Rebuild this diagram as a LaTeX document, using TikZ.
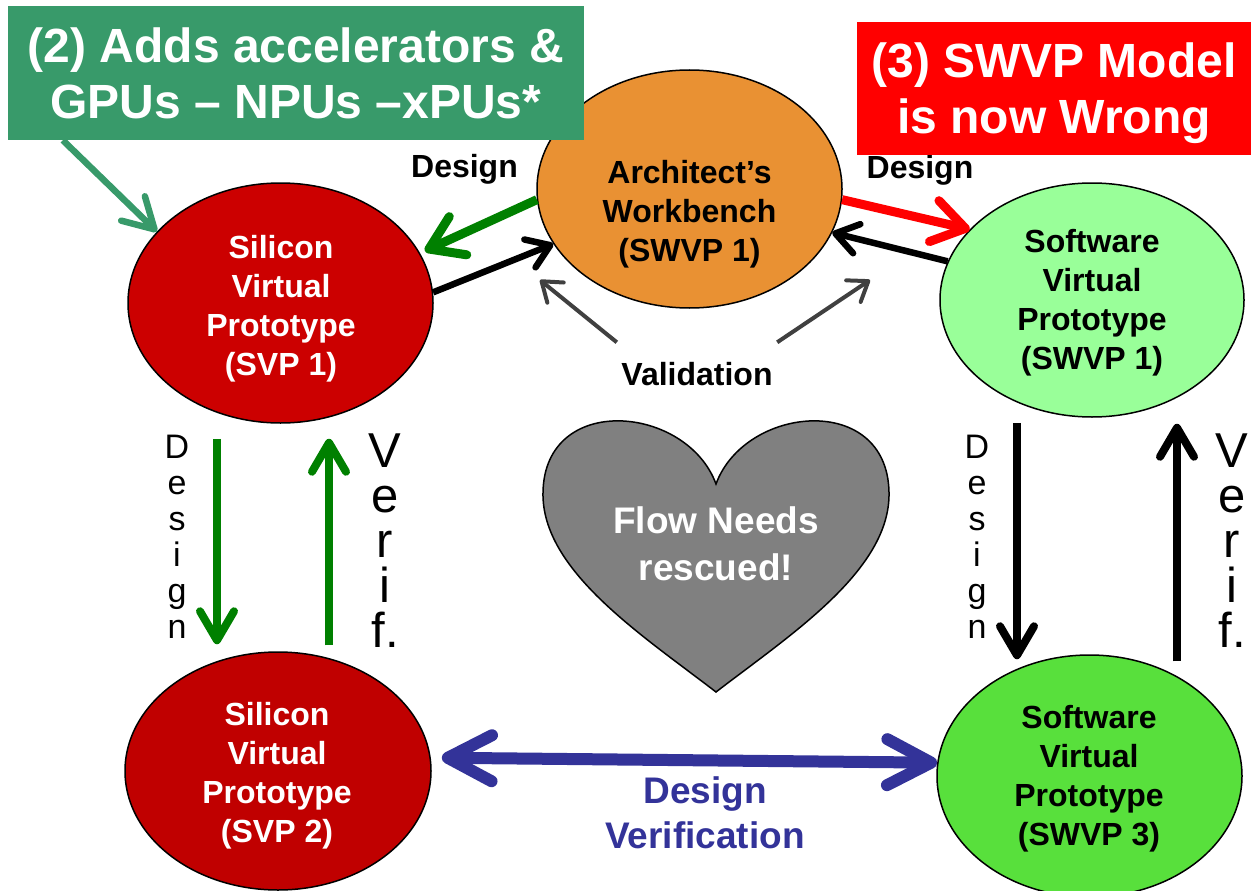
\documentclass[tikz,border=0pt]{standalone}
\usepackage{fontspec}
\setmainfont{Liberation Sans}
\usetikzlibrary{arrows.meta,shapes.geometric}
\definecolor{boxgreen}{RGB}{56,154,106}
\definecolor{boxred}{RGB}{255,0,0}
\definecolor{archorange}{RGB}{233,145,51}
\definecolor{svpredA}{RGB}{204,0,0}
\definecolor{svpredB}{RGB}{192,0,0}
\definecolor{swlight}{RGB}{153,255,153}
\definecolor{swgreen}{RGB}{88,224,60}
\definecolor{darkgreen}{RGB}{0,128,0}
\definecolor{valgray}{RGB}{64,64,64}
\definecolor{heartgray}{RGB}{128,128,128}
\definecolor{dvblue}{RGB}{51,51,153}
\begin{document}
\begin{tikzpicture}[x=1pt,y=-1pt,
  oval/.style={ellipse, draw=black, line width=1.5pt, inner sep=0pt},
  ovaltext/.style={align=center, inner sep=0pt, font=\bfseries\fontsize{32}{39}\selectfont},
  bigbox/.style={inner sep=0pt, align=center, text=white, font=\bfseries\fontsize{48}{56}\selectfont},
  lbl/.style={inner sep=0pt, font=\bfseries\fontsize{32}{36}\selectfont},
  vdesign/.style={align=center, inner sep=0pt, font=\fontsize{34}{36}\selectfont},
  vverif/.style={align=center, inner sep=0pt, font=\fontsize{49}{45}\selectfont},
  thickarrow/.style={line width=9pt, -{Straight Barb[round, length=32pt, width=42pt]}},
  blackarrow/.style={line width=6.5pt, black, -{Straight Barb[round, length=22pt, width=30pt]}},
  valarrow/.style={line width=4pt, valgray, -{Straight Barb[round, length=18pt, width=26pt]}},
  vertarrow/.style={line width=8pt, -{Straight Barb[round, length=29pt, width=34pt]}},
]
\useasboundingbox (0,0) rectangle (1251,891);

% ellipses
\node[oval, fill=archorange, minimum width=305pt, minimum height=238pt] (arch) at (689.5,189) {};
\node[ovaltext] (archtext) at (689.5,214) {Architect’s\\Workbench\\(SWVP 1)};

\node[oval, fill=svpredA, minimum width=305pt, minimum height=240pt] (svp1) at (280.5,303) {};
\node[ovaltext, text=white] (svp1text) at (281,309) {Silicon\\Virtual\\Prototype\\(SVP 1)};

\node[oval, fill=svpredB, minimum width=306pt, minimum height=238pt] (svp2) at (278,771) {};
\node[ovaltext, text=white] (svp2text) at (277,776) {Silicon\\Virtual\\Prototype\\(SVP 2)};

\node[oval, fill=swlight, minimum width=304pt, minimum height=234pt] (swvp1) at (1092,300) {};
\node[ovaltext] (swvp1text) at (1092,303) {Software\\Virtual\\Prototype\\(SWVP 1)};

\node[oval, fill=swgreen, minimum width=305pt, minimum height=242pt] (swvp3) at (1089.5,776) {};
\node[ovaltext] (swvp3text) at (1089,779) {Software\\Virtual\\Prototype\\(SWVP 3)};

% heart
\draw[fill=heartgray, draw=black, line width=1.5pt]
  (716,484) .. controls (745,405) and (887,392) .. (889,492)
  .. controls (891,570) and (790,635) .. (716,692)
  .. controls (642,635) and (541,570) .. (543,492)
  .. controls (545,392) and (687,405) .. (716,484) -- cycle;
\node[align=center, inner sep=0pt, text=white, font=\bfseries\fontsize{37}{47}\selectfont] (hearttext) at (716,544) {Flow Needs\\rescued!};

% labels
\node[lbl] (designL) at (464.5,169) {Design};
\node[lbl] (designR) at (920,170) {Design};
\node[lbl, minimum width=160pt, minimum height=60pt] (val) at (697,374.5) {Validation};

\node[vdesign] (vdL) at (177,537) {D\\e\\s\\i\\g\\n};
\node[vverif] (vvL) at (385,541) {V\\e\\r\\i\\f.};
\node[vdesign] (vdR) at (977,537) {D\\e\\s\\i\\g\\n};
\node[vverif] (vvR) at (1232,541) {V\\e\\r\\i\\f.};

\node[align=center, inner sep=0pt, text=dvblue, font=\bfseries\fontsize{37}{45}\selectfont] (dv) at (705,812.5) {Design\\Verification};

% connectors top
\draw[thickarrow, darkgreen] (arch.184) -- ([shift={(8pt,-3pt)}]svp1.22);
\draw[blackarrow] (svp1.4) -- (arch.202);
\draw[thickarrow, boxred] (arch.-4) -- (swvp1.150);
\draw[blackarrow] (swvp1.165) -- (arch.343);

% validation
\coordinate (vtipL) at (540,280);
\coordinate (vtipR) at (870,280);
\draw[valarrow] ([shift={(0pt,2pt)}]val.north west) -- (vtipL);
\draw[valarrow] ([shift={(0pt,2pt)}]val.north east) -- (vtipR);

% vertical arrows
\draw[vertarrow, darkgreen, shorten <=15pt, shorten >=7pt] ([xshift=-63.5pt]svp1.south) -- ([xshift=-61pt]svp2.north);
\draw[vertarrow, darkgreen, shorten <=6pt, shorten >=15pt] ([xshift=51pt]svp2.north) -- ([xshift=48.5pt]svp1.south);
\draw[vertarrow, black, shorten <=5pt, shorten >=-5pt] ([xshift=-75pt]swvp1.south) -- ([xshift=-72.5pt]swvp3.north);
\draw[vertarrow, black, shorten <=-7pt, shorten >=6pt] ([xshift=87.5pt]swvp3.north) -- ([xshift=85pt]swvp1.south);

% blue double arrow
\draw[line width=12pt, dvblue, {Straight Barb[round, length=44pt, width=46pt]}-{Straight Barb[round, length=44pt, width=46pt]}, shorten <=11pt] (svp2.5) -- (swvp3.175);

% boxes
\node[bigbox, fill=boxgreen, minimum width=576pt, minimum height=134pt] (gbox) at (296,73) {(2) Adds accelerators \&\\GPUs – NPUs –xPUs*};
\node[bigbox, fill=boxred, minimum width=394pt, minimum height=133pt, text depth=0pt] (rbox) at (1054,88.5) {(3) SWVP Model\\is now Wrong};

\draw[line width=6.5pt, boxgreen, -{Straight Barb[round, length=30pt, width=34pt]}] ([xshift=55pt]gbox.south west) -- (svp1.150);
\end{tikzpicture}
\end{document}
